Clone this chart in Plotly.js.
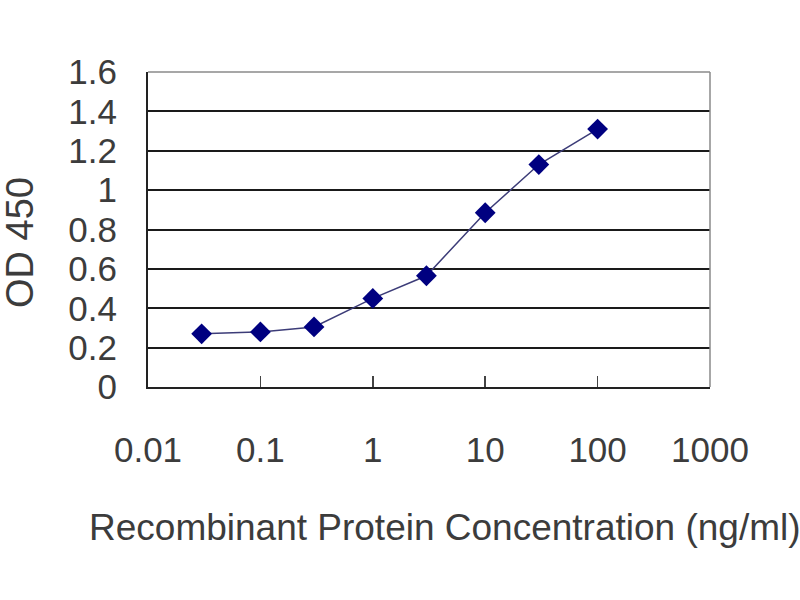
<!DOCTYPE html>
<html><head><meta charset="utf-8">
<script src="https://cdn.plot.ly/plotly-3.0.1.min.js"></script>
<style>html,body{margin:0;padding:0;background:#fff}#c{width:800px;height:600px}</style>
</head><body><div id="c"></div>
<script>
const concentration = [0.03, 0.1, 0.3, 1, 3, 10, 30, 100];
const od450 = [0.27, 0.28, 0.305, 0.45, 0.565, 0.885, 1.13, 1.31];
const xTickVals = [0.01, 0.1, 1, 10, 100, 1000];
const xTickText = ['0.01', '0.1', '1', '10', '100', '1000'];
const yTickVals = [0, 0.2, 0.4, 0.6, 0.8, 1, 1.2, 1.4, 1.6];
const yTickText = ['0', '0.2', '0.4', '0.6', '0.8', '1', '1.2', '1.4', '1.6'];

const trace = {
  x: concentration, y: od450, type: 'scatter', mode: 'lines+markers',
  line: {color: '#3c3c78', width: 1.5},
  marker: {symbol: 'diamond', size: 16, color: '#000080'},
  cliponaxis: false
};
const fam = 'Liberation Sans, Arial, sans-serif';
const txt = '#3c3c3c';
const layout = {
  width: 800, height: 600,
  margin: {l: 148, r: 90, t: 72, b: 213},
  paper_bgcolor: '#fff', plot_bgcolor: '#fff',
  showlegend: false,
  font: {family: fam, color: txt},
  xaxis: {
    type: 'log', range: [-2, 3],
    tickvals: xTickVals, ticktext: xTickText,
    ticks: 'inside', ticklen: 11, tickwidth: 1.5, tickcolor: '#444',
    showgrid: false, zeroline: false,
    showline: true, linecolor: '#222', linewidth: 2,
    tickfont: {size: 35, family: fam, color: txt},
    ticklabelstandoff: 31
  },
  yaxis: {
    range: [0, 1.6],
    tickvals: yTickVals, ticktext: yTickText,
    ticks: '', showgrid: true, gridcolor: '#1a1a1a', gridwidth: 2,
    zeroline: false, showline: true, linecolor: '#222', linewidth: 2,
    tickfont: {size: 35, family: fam, color: txt},
    ticklabelstandoff: 22
  },
  shapes: [
    {type: 'line', xref: 'paper', yref: 'paper', x0: 0, x1: 1, y0: 1, y1: 1, line: {color: '#8a8a8a', width: 1.5}},
    {type: 'line', xref: 'paper', yref: 'paper', x0: 1, x1: 1, y0: 0, y1: 1, line: {color: '#8a8a8a', width: 1.5}}
  ],
  annotations: [
    {text: 'Recombinant Protein Concentration (ng/ml)', xref: 'paper', yref: 'paper',
     x: (445 - 148)/562, y: -140/315, xanchor: 'center', yanchor: 'middle', showarrow: false,
     font: {size: 37, family: fam, color: txt}},
    {text: 'OD 450', xref: 'paper', yref: 'paper', textangle: -90,
     x: -128/562, y: (387 - 243)/315, xanchor: 'center', yanchor: 'middle', showarrow: false,
     font: {size: 38, family: fam, color: txt}}
  ]
};
Plotly.newPlot('c', [trace], layout, {staticPlot: true});
</script></body></html>
